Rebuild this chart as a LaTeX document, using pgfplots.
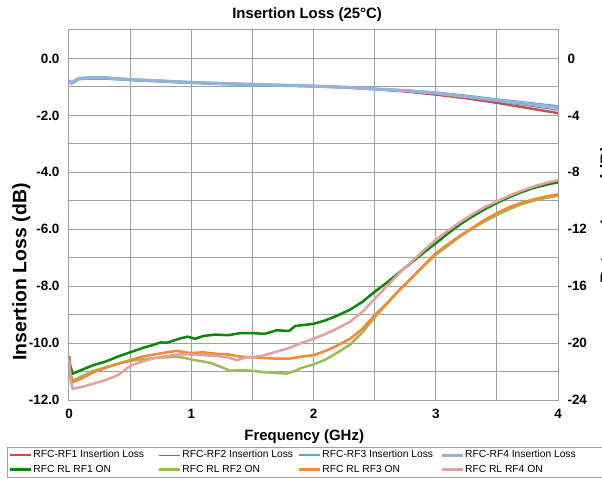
\documentclass[border=0pt]{standalone}
\usepackage{pgfplots}
\pgfplotsset{compat=1.18}
\usepackage{fontspec}
\setmainfont{Liberation Sans}

% Series colours
\definecolor{ilred}{HTML}{C0504D}
\definecolor{ilpurple}{HTML}{8064A2}
\definecolor{ilteal}{HTML}{4BACC6}
\definecolor{ilblue}{HTML}{95B3D7}
\definecolor{rlgreen}{HTML}{0A870A}
\definecolor{rlolive}{HTML}{9BBB59}
\definecolor{rlorange}{HTML}{F08A35}
\definecolor{rlpink}{HTML}{E2A0A0}

% fixed-width legend texts, one width per legend column
\newcommand{\lgdA}[1]{\makebox[123.5bp][l]{#1}}
\newcommand{\lgdB}[1]{\makebox[114.5bp][l]{#1}}
\newcommand{\lgdC}[1]{\makebox[116.5bp][l]{#1}}
\newcommand{\lgdD}[1]{\makebox[138bp][l]{#1}}

\pgfplotsset{
  il1/.style={color=ilred, line width=2.4bp},
  il2/.style={color=ilpurple, line width=1.0bp},
  il3/.style={color=ilteal, line width=2.4bp},
  il4/.style={color=ilblue, line width=3.2bp},
  rl1/.style={color=rlgreen, line width=2.5bp},
  rl2/.style={color=rlolive, line width=2.5bp},
  rl3/.style={color=rlorange, line width=2.5bp},
  rl4/.style={color=rlpink, line width=2.5bp},
}

\begin{document}
\begin{tikzpicture}
% page area: the right-hand axis title runs past its edge
\path[use as bounding box] (-69bp,-82bp) rectangle (533bp,400bp);
\clip (-69bp,-82bp) rectangle (533bp,400bp);

% Insertion loss, left axis
\begin{axis}[
  scale only axis, width=489bp, height=370bp,
  xmin=0, xmax=4, ymin=-12, ymax=1,
  xtick={0,1,2,3,4}, xticklabels={0,1,2,3,4},
  minor xtick={0.5,1.5,2.5,3.5},
  ytick={-12,-10,-8,-6,-4,-2,0},
  yticklabels={-12.0,-10.0,-8.0,-6.0,-4.0,-2.0,0.0},
  minor ytick={-11,-9,-7,-5,-3,-1,1},
  xtick pos=bottom, ytick pos=left,
  xmajorgrids, ymajorgrids, xminorgrids, yminorgrids,
  major grid style={color=gray!75, line width=1bp},
  minor grid style={color=gray!75, line width=1bp},
  major tick style={color=gray!75, line width=1bp},
  minor tick style={color=gray!75, line width=1bp},
  axis line style={color=gray!75, line width=1bp},
  tick label style={font=\fontsize{13.5}{15}\selectfont\bfseries},
  label style={font=\fontsize{15}{17}\selectfont\bfseries},
  xticklabel style={anchor=north, yshift=-6bp},
  yticklabel style={anchor=east, xshift=-6bp},
  title={Insertion Loss (25\textdegree C)},
  title style={at={(axis description cs:0.487,1)}, anchor=base,
    yshift=6bp, font=\fontsize{15}{17}\selectfont\bfseries},
  xlabel={Frequency (GHz)},
  xlabel style={at={(axis description cs:0.481,0)}, anchor=base, yshift=-40bp},
  ylabel={Insertion Loss (dB)},
  ylabel style={at={([xshift=-57bp]axis description cs:0,0.346)}, anchor=north,
    inner sep=0pt, font=\fontsize{19.5}{21}\selectfont\bfseries},
  legend columns=4,
  legend cell align=left,
  legend image code/.code={\draw[#1] (0bp,0bp) -- (21bp,0bp);},
  legend style={at={(rel axis cs:0,0)}, anchor=north west,
    xshift=-62bp, yshift=-47bp,
    draw=gray!75, line width=0.9bp, inner sep=1.5bp,
    font=\fontsize{10.3}{12}\selectfont,
    nodes={inner sep=1bp, text height=8bp, text depth=2.5bp},
    row sep=2bp},
]
\addplot[il1] coordinates {
  (0,-0.78) (0.02,-0.85) (0.04,-0.80) (0.08,-0.70) (0.15,-0.68) (0.3,-0.68)
  (0.5,-0.74) (0.75,-0.79) (1.0,-0.84) (1.25,-0.88) (1.5,-0.91) (1.75,-0.94)
  (2.0,-0.97) (2.25,-1.01) (2.5,-1.08) (2.75,-1.16) (3.0,-1.27) (3.25,-1.40)
  (3.5,-1.56) (3.75,-1.74) (4.0,-1.92)};
\addlegendentry{\lgdA{RFC-RF1 Insertion Loss}}
\addplot[il2] coordinates {
  (0,-0.78) (0.02,-0.85) (0.04,-0.80) (0.08,-0.70) (0.15,-0.68) (0.3,-0.68)
  (0.5,-0.74) (0.75,-0.79) (1.0,-0.84) (1.25,-0.88) (1.5,-0.91) (1.75,-0.94)
  (2.0,-0.97) (2.25,-1.01) (2.5,-1.07) (2.75,-1.14) (3.0,-1.24) (3.25,-1.37)
  (3.5,-1.51) (3.75,-1.66) (4.0,-1.82)};
\addlegendentry{\lgdB{RFC-RF2 Insertion Loss}}
\addplot[il3] coordinates {
  (0,-0.80) (0.02,-0.88) (0.04,-0.83) (0.08,-0.73) (0.15,-0.71) (0.3,-0.71)
  (0.5,-0.76) (0.75,-0.81) (1.0,-0.86) (1.25,-0.90) (1.5,-0.93) (1.75,-0.96)
  (2.0,-0.98) (2.25,-1.02) (2.5,-1.07) (2.75,-1.12) (3.0,-1.20) (3.25,-1.31)
  (3.5,-1.44) (3.75,-1.56) (4.0,-1.68)};
\addlegendentry{\lgdC{RFC-RF3 Insertion Loss}}
\addplot[il4] coordinates {
  (0,-0.78) (0.02,-0.85) (0.04,-0.80) (0.08,-0.70) (0.15,-0.68) (0.3,-0.68)
  (0.5,-0.74) (0.75,-0.79) (1.0,-0.84) (1.25,-0.88) (1.5,-0.91) (1.75,-0.94)
  (2.0,-0.97) (2.25,-1.01) (2.5,-1.07) (2.75,-1.13) (3.0,-1.22) (3.25,-1.34)
  (3.5,-1.47) (3.75,-1.60) (4.0,-1.72)};
\addlegendentry{\lgdD{RFC-RF4 Insertion Loss}}
\addlegendimage{rl1}\addlegendentry{\lgdA{RFC RL RF1 ON}}
\addlegendimage{rl2}\addlegendentry{\lgdB{RFC RL RF2 ON}}
\addlegendimage{rl3}\addlegendentry{\lgdC{RFC RL RF3 ON}}
\addlegendimage{rl4}\addlegendentry{\lgdD{RFC RL RF4 ON}}
\end{axis}

% Return loss, right axis
\begin{axis}[
  scale only axis, width=489bp, height=370bp,
  xmin=0, xmax=4, ymin=-24, ymax=2,
  axis x line=none,
  axis y line*=right,
  major tick style={color=gray!75, line width=1bp},
  minor tick style={color=gray!75, line width=1bp},
  axis line style={color=gray!75, line width=1bp},
  tick label style={font=\fontsize{13.5}{15}\selectfont\bfseries},
  ytick={-24,-20,-16,-12,-8,-4,0},
  yticklabels={-24,-20,-16,-12,-8,-4,0},
  minor ytick={-22,-18,-14,-10,-6,-2,2},
  yticklabel style={anchor=west, xshift=6bp},
  ylabel={Return Loss (dB)},
  ylabel style={at={([xshift=42bp]axis description cs:1,0.5)}, anchor=north,
    inner sep=0pt, font=\fontsize{17}{19}\selectfont\bfseries},
]
\addplot[rl1] coordinates {
  (0,-20.9) (0.01,-21.6) (0.03,-22.15) (0.1,-21.9) (0.2,-21.55) (0.3,-21.3)
  (0.4,-20.95) (0.5,-20.65) (0.6,-20.35) (0.7,-20.1) (0.75,-19.95) (0.8,-19.98)
  (0.9,-19.7) (0.97,-19.55) (1.03,-19.7) (1.1,-19.5) (1.2,-19.4) (1.3,-19.45)
  (1.4,-19.3) (1.5,-19.3) (1.6,-19.35) (1.7,-19.1) (1.8,-19.15) (1.85,-18.8)
  (2.0,-18.65) (2.1,-18.4) (2.2,-18.05) (2.3,-17.65) (2.4,-17.1) (2.5,-16.4)
  (2.6,-15.75) (2.7,-15.05) (2.8,-14.35) (2.9,-13.65) (3.0,-12.99) (3.1,-12.3)
  (3.2,-11.65) (3.3,-11.1) (3.4,-10.6) (3.5,-10.15) (3.6,-9.75) (3.7,-9.4)
  (3.8,-9.1) (3.9,-8.88) (4.0,-8.7)};
\addplot[rl2] coordinates {
  (0,-21.0) (0.01,-22.1) (0.03,-22.65) (0.1,-22.35) (0.2,-21.95) (0.3,-21.7)
  (0.4,-21.45) (0.5,-21.25) (0.6,-21.15) (0.7,-21.05) (0.8,-21.0) (0.88,-20.95)
  (0.95,-21.05) (1.0,-21.15) (1.1,-21.3) (1.16,-21.4) (1.25,-21.7) (1.32,-21.95)
  (1.4,-21.9) (1.5,-21.95) (1.6,-22.05) (1.7,-22.1) (1.78,-22.15) (1.85,-21.95)
  (1.9,-21.75) (2.0,-21.5) (2.1,-21.15) (2.2,-20.65) (2.3,-20.1) (2.4,-19.25)
  (2.5,-18.2) (2.6,-17.25) (2.7,-16.3) (2.8,-15.45) (2.9,-14.6) (3.0,-13.8)
  (3.1,-13.15) (3.2,-12.5) (3.3,-11.95) (3.4,-11.45) (3.5,-11.0) (3.6,-10.6)
  (3.7,-10.25) (3.8,-10.0) (3.9,-9.8) (4.0,-9.65)};
\addplot[rl3] coordinates {
  (0,-21.0) (0.01,-22.2) (0.03,-22.75) (0.1,-22.5) (0.2,-22.05) (0.3,-21.75)
  (0.4,-21.45) (0.5,-21.2) (0.6,-20.95) (0.7,-20.8) (0.8,-20.65) (0.88,-20.55)
  (0.95,-20.65) (1.0,-20.7) (1.1,-20.65) (1.2,-20.75) (1.3,-20.8) (1.4,-20.95)
  (1.5,-21.0) (1.6,-21.05) (1.7,-21.1) (1.8,-21.1) (1.9,-20.95) (2.0,-20.85)
  (2.1,-20.55) (2.2,-20.15) (2.3,-19.7) (2.4,-19.0) (2.5,-18.05) (2.6,-17.2)
  (2.7,-16.3) (2.8,-15.45) (2.9,-14.55) (3.0,-13.7) (3.1,-13.05) (3.2,-12.45)
  (3.3,-11.9) (3.4,-11.35) (3.5,-10.87) (3.6,-10.45) (3.7,-10.15) (3.8,-9.9)
  (3.9,-9.7) (4.0,-9.55)};
\addplot[rl4] coordinates {
  (0,-21.2) (0.01,-22.5) (0.03,-23.2) (0.1,-23.1) (0.2,-22.85) (0.3,-22.6)
  (0.4,-22.25) (0.45,-21.95) (0.5,-21.6) (0.6,-21.3) (0.7,-21.05) (0.8,-20.9)
  (0.9,-20.8) (1.0,-20.8) (1.1,-20.85) (1.2,-20.9) (1.3,-21.0) (1.37,-21.2)
  (1.45,-21.0) (1.5,-21.0) (1.6,-20.85) (1.7,-20.6) (1.8,-20.35) (1.9,-20.0)
  (2.0,-19.7) (2.1,-19.35) (2.2,-18.95) (2.3,-18.5) (2.4,-17.8) (2.5,-16.9)
  (2.6,-16.0) (2.7,-15.1) (2.8,-14.3) (2.9,-13.5) (3.0,-12.75) (3.1,-12.1)
  (3.2,-11.5) (3.3,-10.95) (3.4,-10.45) (3.5,-10.05) (3.6,-9.65) (3.7,-9.3)
  (3.8,-9.0) (3.9,-8.75) (4.0,-8.55)};
\end{axis}
\end{tikzpicture}
\end{document}
